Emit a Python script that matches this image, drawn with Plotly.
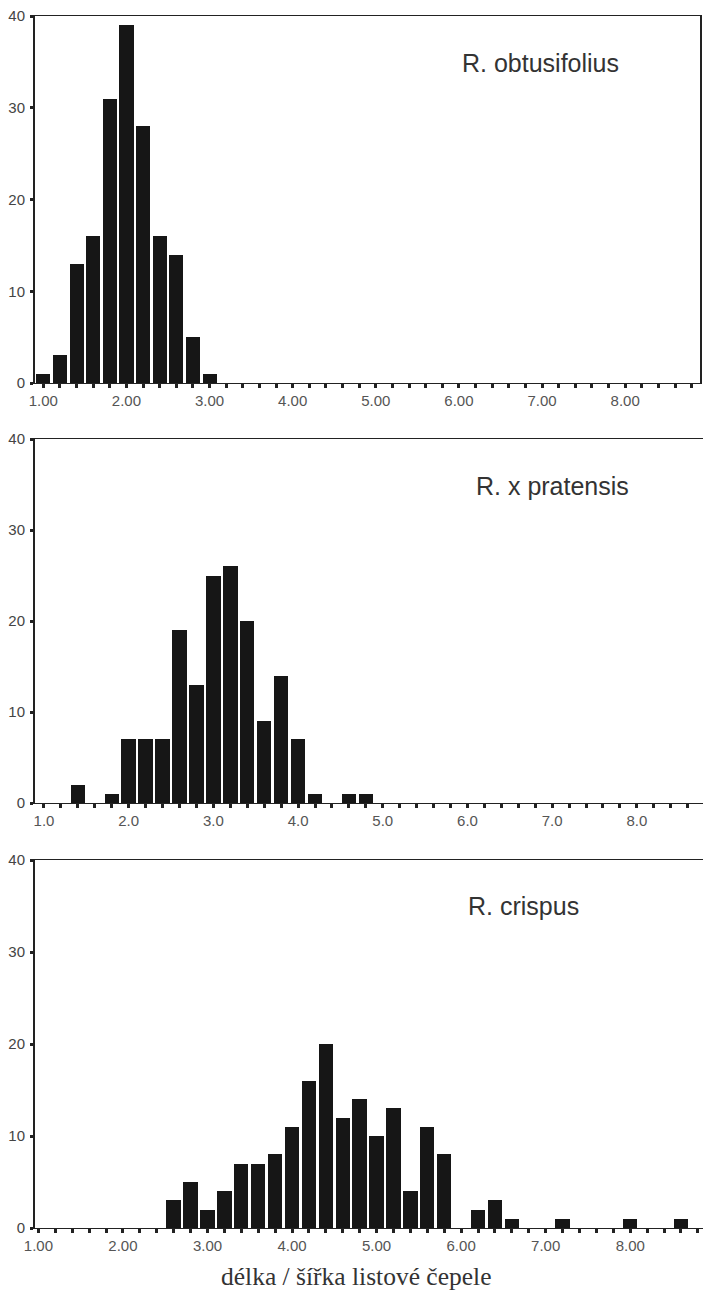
import plotly.graph_objects as go

# ---------------- data ----------------
obtusifolius_x = [1.0, 1.2, 1.4, 1.6, 1.8, 2.0, 2.2, 2.4, 2.6, 2.8, 3.0]
obtusifolius_n = [1, 3, 13, 16, 31, 39, 28, 16, 14, 5, 1]

pratensis_x = [1.4, 1.8, 2.0, 2.2, 2.4, 2.6, 2.8, 3.0, 3.2, 3.4, 3.6, 3.8, 4.0, 4.2, 4.6, 4.8]
pratensis_n = [2, 1, 7, 7, 7, 19, 13, 25, 26, 20, 9, 14, 7, 1, 1, 1]

crispus_x = [2.6, 2.8, 3.0, 3.2, 3.4, 3.6, 3.8, 4.0, 4.2, 4.4, 4.6, 4.8, 5.0, 5.2,
             5.4, 5.6, 5.8, 6.2, 6.4, 6.6, 7.2, 8.0, 8.6]
crispus_n = [3, 5, 2, 4, 7, 7, 8, 11, 16, 20, 12, 14, 10, 13,
             4, 11, 8, 2, 3, 1, 1, 1, 1]

x_tick_vals = [1, 2, 3, 4, 5, 6, 7, 8]
x_tick_text_2dec = ["1.00", "2.00", "3.00", "4.00", "5.00", "6.00", "7.00", "8.00"]
x_tick_text_1dec = ["1.0", "2.0", "3.0", "4.0", "5.0", "6.0", "7.0", "8.0"]
y_tick_vals = [0, 10, 20, 30, 40]
y_tick_text = ["0", "10", "20", "30", "40"]

species = ["R. obtusifolius", "R. x pratensis", "R. crispus"]
x_title = "délka / šířka listové čepele"

# ---------------- layout helpers ----------------
W, H = 711, 1294
OFF = 8  # the page body margin shifts the figure by 8 px
BAR = "#161616"
AX = "#222222"

panels = [
    dict(x=obtusifolius_x, n=obtusifolius_n, ticktext=x_tick_text_2dec,
         xpx=(35, 700), ypx=(16, 383), xr=[0.9, 8.9], lab=(540, 63)),
    dict(x=pratensis_x, n=pratensis_n, ticktext=x_tick_text_1dec,
         xpx=(35, 708), ypx=(439, 803), xr=[0.894, 8.84], lab=(552, 486)),
    dict(x=crispus_x, n=crispus_n, ticktext=x_tick_text_2dec,
         xpx=(35, 708), ypx=(860, 1228), xr=[0.96, 8.92], lab=(523, 906)),
]


def px_x(v):
    return (v - OFF) / W


def px_y(v):
    return 1 - (v - OFF) / H


fig = go.Figure()
layout = dict(width=W, height=H, margin=dict(l=0, r=0, t=0, b=0, autoexpand=False),
              paper_bgcolor="white", plot_bgcolor="white", showlegend=False,
              bargap=0, annotations=[])

for i, p in enumerate(panels):
    k = i + 1
    xa = "x" if k == 1 else f"x{k}"
    ya = "y" if k == 1 else f"y{k}"
    fig.add_trace(go.Bar(x=p["x"], y=p["n"], width=0.17, marker_color=BAR,
                         marker_line_width=0, xaxis=xa, yaxis=ya))
    xdom = [px_x(p["xpx"][0]), px_x(p["xpx"][1])]
    ydom = [px_y(p["ypx"][1]), px_y(p["ypx"][0])]
    xkey = "xaxis" if k == 1 else f"xaxis{k}"
    ykey = "yaxis" if k == 1 else f"yaxis{k}"
    layout[xkey] = dict(domain=xdom, range=p["xr"], anchor=ya, automargin=False,
                        showgrid=False, zeroline=False,
                        showline=True, linecolor=AX, linewidth=1.2, mirror=True,
                        tickmode="array", tickvals=x_tick_vals, ticktext=p["ticktext"],
                        ticks="outside", ticklen=4, tickwidth=2.5, tickcolor=AX,
                        minor=dict(tick0=0, dtick=0.2, ticks="outside", ticklen=4,
                                   tickwidth=2.5, tickcolor=AX, showgrid=False),
                        tickfont=dict(family="Liberation Sans, Arial", size=15, color="#555555"),
                        ticklabelstandoff=0, ticklabeloverflow="allow", fixedrange=True)
    layout[ykey] = dict(domain=ydom, range=[0, 40], anchor=xa, automargin=False,
                        showgrid=False, zeroline=False,
                        showline=True, linecolor=AX, linewidth=2, mirror=True,
                        tickmode="array", tickvals=y_tick_vals, ticktext=y_tick_text,
                        ticks="outside", ticklen=3, tickwidth=2.5, tickcolor=AX,
                        tickfont=dict(family="Liberation Sans, Arial", size=15, color="#444444"),
                        ticklabelstandoff=2, ticklabeloverflow="allow", fixedrange=True)
    # inside part of the cross-shaped y ticks
    oy = f"yaxis{k + 3}"
    layout[oy] = dict(domain=ydom, range=[0, 40], anchor=xa, overlaying=ya, side="left",
                      automargin=False, showgrid=False, zeroline=False, showline=False,
                      tickmode="array", tickvals=y_tick_vals, showticklabels=False,
                      ticks="inside", ticklen=7, tickwidth=2.5, tickcolor=AX, fixedrange=True)
    layout["annotations"].append(dict(
        text=species[i], x=px_x(p["lab"][0]), y=px_y(p["lab"][1]),
        xref="paper", yref="paper", xanchor="center", yanchor="middle",
        showarrow=False, font=dict(family="Liberation Sans, Arial", size=25, color="#333333")))

layout["annotations"].append(dict(
    text=x_title, x=px_x(356), y=px_y(1276), xref="paper", yref="paper",
    xanchor="center", yanchor="middle", showarrow=False,
    font=dict(family="Liberation Serif, Times New Roman", size=25.5, color="#333333")))

fig.update_layout(**layout)
fig.write_html("out.html")
